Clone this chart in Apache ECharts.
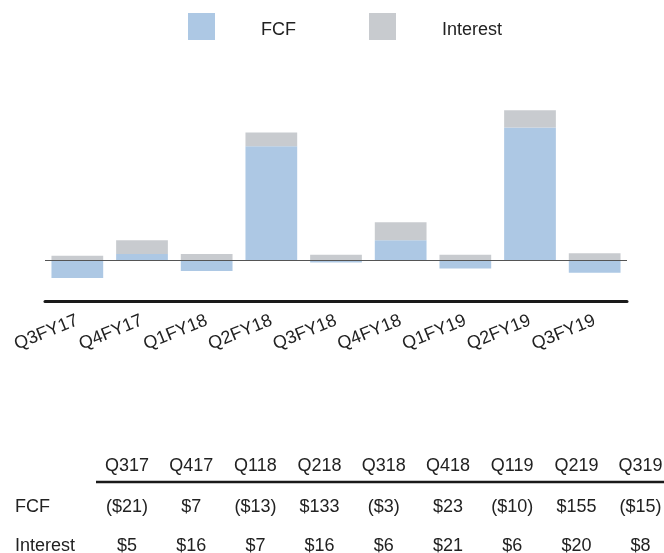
<!DOCTYPE html>
<html>
<head>
<meta charset="utf-8">
<script src="https://cdn.jsdelivr.net/npm/echarts@6/dist/echarts.min.js"></script>
<style>
html,body{margin:0;padding:0;background:#fff;}
#chart{width:664px;height:553px;}
</style>
</head>
<body>
<div id="chart"></div>
<script>
const categories = ['Q3FY17','Q4FY17','Q1FY18','Q2FY18','Q3FY18','Q4FY18','Q1FY19','Q2FY19','Q3FY19'];
const fcf = [-21, 7, -13, 133, -3, 23, -10, 155, -15];
const interest = [5, 16, 7, 16, 6, 21, 6, 20, 8];
const tableHeaders = ['Q317','Q417','Q118','Q218','Q318','Q418','Q119','Q219','Q319'];
const rowLabels = ['FCF','Interest'];

const FONT = 'Liberation Sans, Arial, Helvetica, sans-serif';
const TXT = '#222222';

function money(v){ return v < 0 ? '($' + Math.abs(v) + ')' : '$' + v; }

const chart = echarts.init(document.getElementById('chart'));

// table as text graphics
const graphics = [];
const colX0 = 127, colDX = 64.2;
const rowY = [507, 546];
tableHeaders.forEach((h, i) => {
  graphics.push({type:'text', x: colX0 + colDX*i, y: 466,
    style:{text:h, fill:TXT, font:'18px ' + FONT, textAlign:'center', textVerticalAlign:'middle'}});
});
graphics.push({type:'line', shape:{x1:96, y1:482, x2:664, y2:482}, style:{stroke:'#1a1a1a', lineWidth:2.5}});
[fcf, interest].forEach((arr, r) => {
  graphics.push({type:'text', x: 15, y: rowY[r],
    style:{text:rowLabels[r], fill:TXT, font:'18px ' + FONT, textAlign:'left', textVerticalAlign:'middle'}});
  arr.forEach((v, i) => {
    graphics.push({type:'text', x: colX0 + colDX*i, y: rowY[r],
      style:{text:money(v), fill:TXT, font:'18px ' + FONT, textAlign:'center', textVerticalAlign:'middle'}});
  });
});

chart.setOption({
  animation:false,
  backgroundColor:'#fff',
  legend:{
    left:188, top:13, padding:0,
    itemWidth:27, itemHeight:27, itemGap:73,
    icon:'rect',
    data:['FCF','Interest'],
    formatter: n => '{t|' + n + '}',
    textStyle:{fontSize:18, color:TXT, fontFamily:FONT,
      rich:{t:{fontSize:18, color:TXT, fontFamily:FONT, padding:[7,0,0,41]}}}
  },
  grid:{left:45, right:37, top:89, bottom:252, containLabel:false},
  xAxis:{
    type:'category', data:categories,
    axisLine:{show:true, onZero:false, lineStyle:{color:'#1a1a1a', width:3}},
    axisTick:{show:false},
    axisLabel:{rotate:22, fontSize:18, color:TXT, fontFamily:FONT, margin:19, interval:0}
  },
  yAxis:{
    type:'value', min:-48, max:200,
    show:false, splitLine:{show:false}
  },
  series:[
    {name:'FCF', type:'bar', stack:'a', data:fcf, barWidth:'80%',
     itemStyle:{color:'#adc8e4'},
     markLine:{silent:true, symbol:'none', label:{show:false},
       lineStyle:{color:'#555', width:1, type:'solid'}, data:[{yAxis:0}]}},
    {name:'Interest', type:'bar', stack:'a', data:interest, barWidth:'80%',
     itemStyle:{color:'#c8cbcf'}}
  ],
  graphic:graphics
});
</script>
</body>
</html>
